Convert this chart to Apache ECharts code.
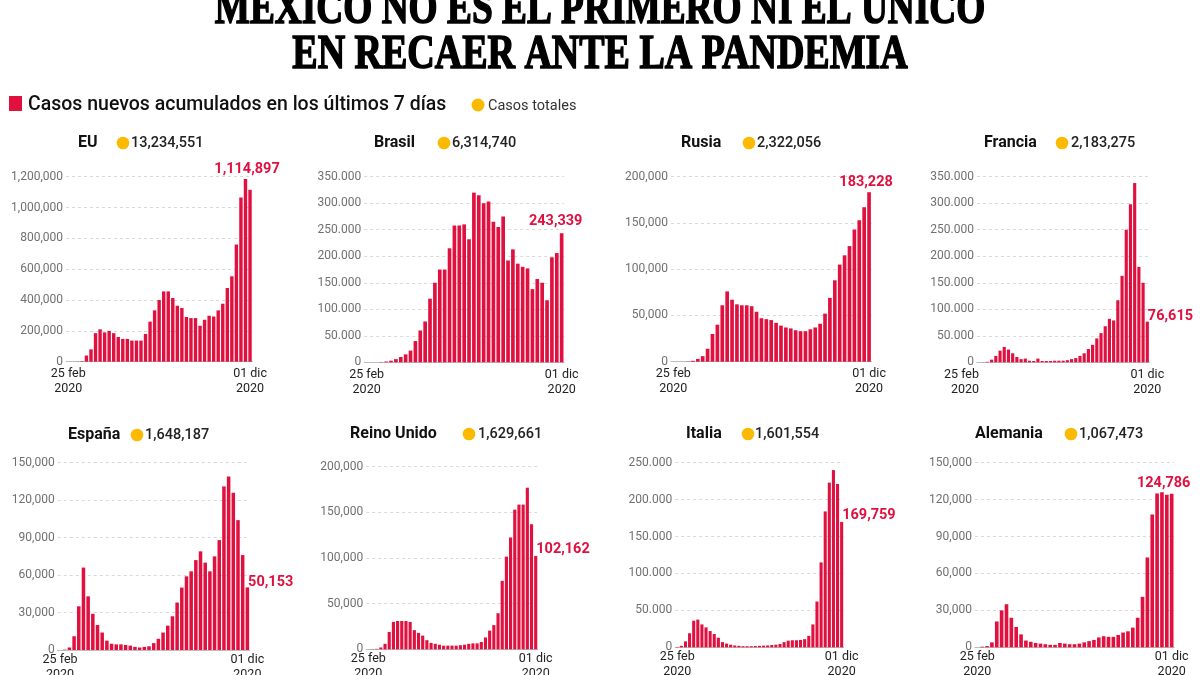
<!DOCTYPE html>
<html>
<head>
<meta charset="utf-8">
<script src="https://cdn.jsdelivr.net/npm/echarts@6/dist/echarts.min.js"></script>
<style>
  html, body { margin: 0; padding: 0; background: #fff; }
  #chart { width: 1200px; height: 675px; }
</style>
</head>
<body>
<div id="chart"></div>
<script>
// ---------- DATA ----------
const weeks = ['25 feb','03 mar','10 mar','17 mar','24 mar','31 mar','07 abr','14 abr','21 abr','28 abr',
  '05 may','12 may','19 may','26 may','02 jun','09 jun','16 jun','23 jun','30 jun','07 jul',
  '14 jul','21 jul','28 jul','04 ago','11 ago','18 ago','25 ago','01 sep','08 sep','15 sep',
  '22 sep','29 sep','06 oct','13 oct','20 oct','27 oct','03 nov','10 nov','17 nov','24 nov','01 dic'];
const year = '2020';

const countries = ['EU','Brasil','Rusia','Francia','España','Reino Unido','Italia','Alemania'];
const totals = [13234551, 6314740, 2322056, 2183275, 1648187, 1629661, 1601554, 1067473];

const eu = [0,0,1000,3000,40000,80000,185000,210000,190000,200000,
  185000,160000,148000,148000,137000,137000,137000,180000,260000,333000,
  400000,456000,456000,413000,363000,348000,290000,283000,283000,233000,
  272000,298000,293000,333000,376000,478000,554000,760000,1065000,1185000,
  1114897];
const brasil = [0,0,0,500,1500,3000,6000,10000,15000,22000,
  40000,60000,77000,120000,150000,175000,175000,215000,258000,258000,
  260000,232000,320000,315000,300000,303000,265000,255000,275000,192000,
  213000,186000,180000,177000,138000,157000,150000,117000,198000,206000,
  243339];
const rusia = [0,0,0,300,1000,3000,6000,14000,30000,40000,
  61000,76000,67000,62000,61000,61000,60000,54000,47000,46000,
  45000,42000,39000,37000,36000,34000,33000,33000,35000,37000,
  41000,52000,69000,88000,105000,115000,125000,143000,153000,167000,
  183228];
const francia = [0,200,1000,5000,12000,22000,29000,24000,17000,10000,
  6000,7000,3000,2500,7000,2500,2500,2500,3000,3000,
  3000,4000,6000,8000,12000,17000,25000,33000,45000,55000,
  68000,82000,79000,117000,163000,250000,298000,338000,180000,150000,
  76615];
const espana = [0,300,2000,11000,35000,66000,43000,29000,20000,14000,
  7500,5000,4500,4500,4000,3500,2500,2000,2500,3000,
  5500,9000,14000,19500,27000,38000,50000,59000,63000,72000,
  79000,70000,63000,75000,88000,131000,139000,126000,104000,76000,
  50153];
const reinoUnido = [0,200,500,2000,6000,19000,30000,31000,31000,31000,
  30000,21000,18000,15000,10000,7000,6000,5000,4000,4000,
  4000,4000,4500,5000,6000,6500,6500,8000,13000,20500,
  26500,39500,75000,101500,122500,153000,158500,158500,177000,137000,
  102162];
const italia = [500,2000,8000,19000,36000,37500,31000,27000,22000,18000,
  13000,7000,5000,3500,2500,2000,1500,1500,1500,1700,
  2000,2200,2500,3000,3500,4500,7000,9000,9500,9500,
  10000,11000,15500,31000,62000,115000,184000,223000,240000,221000,
  169759];
const alemania = [0,500,1000,4000,21000,30000,35000,24000,16500,10500,
  5500,4500,3500,3000,2500,2000,2000,3500,3000,2500,
  2500,3000,4000,5000,6000,8000,9000,8500,8500,10000,
  12000,13000,16000,24000,41000,73000,108000,125000,126000,124000,
  124786];
const seriesData = [eu, brasil, rusia, francia, espana, reinoUnido, italia, alemania];

// axis maxima / intervals / tick separators
const yMax      = [1200000, 350000, 200000, 350000, 150000, 200000, 250000, 150000];
const yInterval = [200000,  50000,  50000,  50000,  30000,  50000,  50000,  30000];
const ySep      = [',', '.', ',', '.', ',', ',', '.', ','];

// ---------- LAYOUT ----------
const RED = '#e0103f', YEL = '#fbb900';
const grids = [
  {left: 66,    top: 176.7, width: 186.3, height: 185},
  {left: 364.2, top: 176.7, width: 199.9, height: 185.6},
  {left: 670.9, top: 176.7, width: 200.6, height: 185},
  {left: 976.9, top: 176.7, width: 172.5, height: 185.6},
  {left: 57.7,  top: 462.7, width: 192,   height: 187.3},
  {left: 366.2, top: 466.7, width: 171.6, height: 182.6},
  {left: 675.2, top: 462.7, width: 168.5, height: 184.6},
  {left: 974.9, top: 462.7, width: 199.2, height: 184.6}
];
const headers = [
  {name: 78,  dot: 123,  num: 131,  y: 143},
  {name: 374, dot: 444,  num: 452,  y: 143},
  {name: 681, dot: 749,  num: 757,  y: 143},
  {name: 984, dot: 1062, num: 1071, y: 143},
  {name: 68,  dot: 137,  num: 145,  y: 435},
  {name: 350, dot: 469,  num: 478,  y: 434},
  {name: 686, dot: 748,  num: 755,  y: 434},
  {name: 975, dot: 1071, num: 1079, y: 434}
];
const endLabels = [
  {position: 'top', distance: 13, offset: [-3, 0]},
  {position: 'top', distance: 4,  offset: [-6, 0]},
  {position: 'top', distance: 2,  offset: [-3, 0]},
  {position: ['100%', 0], align: 'left', verticalAlign: 'middle', offset: [-1, -5]},
  {position: ['100%', 0], align: 'left', verticalAlign: 'middle', offset: [-1, -5]},
  {position: ['100%', 0], align: 'left', verticalAlign: 'middle', offset: [-1, -7]},
  {position: ['100%', 0], align: 'left', verticalAlign: 'middle', offset: [-1, -7]},
  {position: 'top', distance: 3,  offset: [-8, 0]}
];

function fmt(v, sep) {
  return String(Math.round(v)).replace(/\B(?=(\d{3})+(?!\d))/g, sep);
}

const option = {
  animation: false,
  backgroundColor: '#fff',
  grid: [], xAxis: [], yAxis: [], series: [],
  graphic: []
};

countries.forEach((c, i) => {
  const g = grids[i];
  const row2 = i >= 4;
  option.grid.push({left: g.left, top: g.top, width: g.width, height: g.height,
    containLabel: false, outerBoundsMode: 'none'});
  option.xAxis.push({
    type: 'category', gridIndex: i, data: weeks, boundaryGap: true,
    axisLine: {show: true, lineStyle: {color: '#bdbdbd', width: 1}},
    axisTick: {show: false},
    axisLabel: {
      interval: (idx) => idx === 0 || idx === weeks.length - 1,
      formatter: (v) => v + '\n' + year,
      color: '#222', fontFamily: 'Roboto', fontSize: 12.5, lineHeight: 15,
      margin: row2 ? 2 : 5,
      alignMinLabel: i === 3 ? 'right' : 'center',
      alignMaxLabel: 'center',
      showMinLabel: true, showMaxLabel: true
    }
  });
  option.yAxis.push({
    type: 'value', gridIndex: i, min: 0, max: yMax[i], interval: yInterval[i],
    axisLine: {show: false}, axisTick: {show: false},
    splitLine: {show: true, lineStyle: {color: '#d9d9d9', type: [3, 3], width: 1}},
    axisLabel: {
      color: '#707070', fontFamily: 'Roboto', fontSize: 12, margin: 3,
      padding: [0, 0, 4, 0],
      formatter: (v) => fmt(v, ySep[i])
    }
  });
  const data = seriesData[i].map((v, k) => {
    if (k !== seriesData[i].length - 1) return v;
    return {
      value: v,
      label: Object.assign({
        show: true, color: RED, fontFamily: 'Roboto', fontWeight: 'bold', fontSize: 14.5,
        formatter: (p) => fmt(p.value, ',')
      }, endLabels[i])
    };
  });
  option.series.push({
    type: 'bar', xAxisIndex: i, yAxisIndex: i, data: data,
    barCategoryGap: '25%',
    itemStyle: {color: RED},
    label: {show: false}
  });

  const h = headers[i];
  option.graphic.push(
    {type: 'text', x: h.name, y: h.y, style: {
      text: c, font: 'bold 16px Roboto', fill: '#111',
      textAlign: 'left', textVerticalAlign: 'middle', align: 'left', verticalAlign: 'middle'}},
    {type: 'circle', shape: {cx: h.dot, cy: h.y, r: 6.3}, style: {fill: YEL}},
    {type: 'text', x: h.num, y: h.y, style: {
      text: fmt(totals[i], ','), font: '500 14.5px Roboto', fill: '#222',
      textAlign: 'left', textVerticalAlign: 'middle', align: 'left', verticalAlign: 'middle'}}
  );
});

// Title and legend
option.graphic.push(
  {type: 'text', x: 600, y: 10, scaleX: 0.762, style: {
    text: 'MÉXICO NO ES EL PRIMERO NI EL ÚNICO', font: 'bold 49px "Liberation Serif"', fill: '#000',
    stroke: '#000', lineWidth: 1.6,
    textAlign: 'center', textVerticalAlign: 'middle', align: 'center', verticalAlign: 'middle'}},
  {type: 'text', x: 600, y: 55, scaleX: 0.775, style: {
    text: 'EN RECAER ANTE LA PANDEMIA', font: 'bold 49px "Liberation Serif"', fill: '#000',
    stroke: '#000', lineWidth: 1.6,
    textAlign: 'center', textVerticalAlign: 'middle', align: 'center', verticalAlign: 'middle'}},
  {type: 'rect', shape: {x: 9, y: 96, width: 13, height: 15}, style: {fill: RED}},
  {type: 'text', x: 28, y: 105, scaleX: 0.975, style: {
    text: 'Casos nuevos acumulados en los últimos 7 días', font: '500 20px Roboto', fill: '#111',
    textAlign: 'left', textVerticalAlign: 'middle', align: 'left', verticalAlign: 'middle'}},
  {type: 'circle', shape: {cx: 478, cy: 105, r: 6.5}, style: {fill: YEL}},
  {type: 'text', x: 488, y: 106, style: {
    text: 'Casos totales', font: '14.5px Roboto', fill: '#333',
    textAlign: 'left', textVerticalAlign: 'middle', align: 'left', verticalAlign: 'middle'}}
);

const chart = echarts.init(document.getElementById('chart'), null, {renderer: 'canvas', width: 1200, height: 675});
chart.setOption(option);
</script>
</body>
</html>
